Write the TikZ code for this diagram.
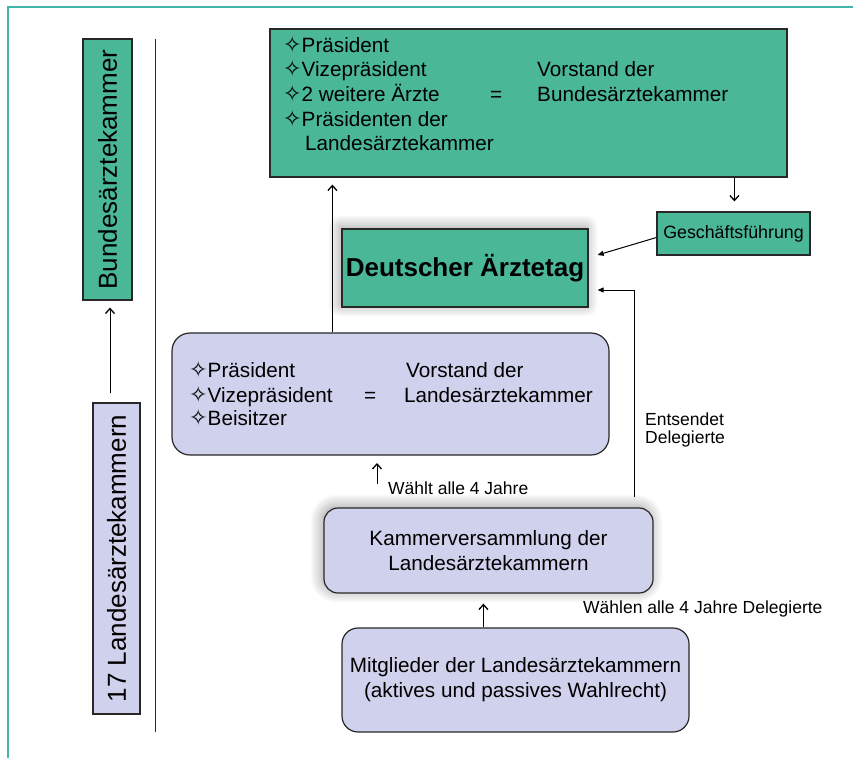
\documentclass[tikz,border=0pt]{standalone}
\usepackage{fontspec}
\setmainfont{Liberation Sans}
\newfontfamily\symf{DejaVu Sans}
\usetikzlibrary{arrows.meta,shadows.blur,calc}
\definecolor{bgreen}{RGB}{74,183,150}
\definecolor{lav}{RGB}{208,209,236}
\definecolor{framec}{RGB}{66,182,168}
\definecolor{edgec}{RGB}{40,40,40}
\newcommand{\dia}{\makebox[18.5pt][l]{\symf\fontsize{22}{22}\selectfont ✧}}
\begin{document}
\begin{tikzpicture}[x=1pt,y=-1pt,
 box/.style={draw=edgec, line width=1.2pt, inner sep=0pt},
 gbox/.style={box, fill=bgreen},
 lbox/.style={box, fill=lav},
 rbox/.style={lbox, rounded corners=16pt},
 txt/.style={inner sep=0pt, anchor=base west, font=\fontsize{20.7}{24}\selectfont},
 small/.style={inner sep=0pt, anchor=base west, font=\fontsize{17.5}{20}\selectfont},
 conn/.style={line width=1pt, -{Straight Barb[length=5pt,width=9pt,line width=1.3pt]}},
 conn2/.style={line width=1pt, -{Triangle[length=6pt,width=5pt]}},
 shad/.style={blur shadow={shadow xshift=-2pt, shadow yshift=2pt, shadow blur radius=12pt, shadow blur steps=12, shadow opacity=40}}
]
\useasboundingbox (0,0) rectangle (853,758);
\draw[framec, line width=1.8pt] (8,758) -- (8,7) -- (853,7);

% left column
\node[gbox, rotate=90, minimum width=261pt, minimum height=49pt, font=\fontsize{26}{30}\selectfont] (bk) at (107.5,169.5) {Bundesärztekammer};
\node[lbox, rotate=90, minimum width=311pt, minimum height=47pt, font=\fontsize{26}{30}\selectfont] (lk) at (116.5,558.5) {17 Landesärztekammern};
\draw[conn] ($(lk.east)+(-6.5,-9)$) -- ($(bk.west)+(2.5,7)$);
\draw[line width=1pt, edgec] (155,39) -- (155,732);

% top box
\node[gbox, minimum width=517pt, minimum height=148pt] (vbk) at (528.5,103) {};
\node[txt] (v1) at (283,52) {\dia Präsident};
\node[txt] (v2) at (283,76.5) {\dia Vizepräsident};
\node[txt] (v3) at (283,101) {\dia 2 weitere Ärzte};
\node[txt] (v4) at (283,126) {\dia Präsidenten der};
\node[txt] (v5) at (305,150) {Landesärztekammer};
\node[txt] (v6) at (490,101) {=};
\node[txt] (v7) at (537,76.5) {Vorstand der};
\node[txt] (v8) at (537,101) {Bundesärztekammer};

% Geschaeftsfuehrung and Aerztetag
\node[gbox, minimum width=153pt, minimum height=43pt, font=\fontsize{17.8}{20}\selectfont] (gf) at (733.5,233.5) {Geschäftsführung};
\node[gbox, shad, minimum width=246pt, minimum height=78pt, font=\bfseries\fontsize{26}{30}\selectfont] (dat) at (465,268) {Deutscher Ärztetag};

% Vorstand Landes
\node[rbox, rounded corners=18pt, minimum width=437pt, minimum height=122pt] (lv) at (390.5,394) {};
\node[txt] (l1) at (189,377) {\dia Präsident};
\node[txt] (l2) at (189,402) {\dia Vizepräsident};
\node[txt] (l3) at (189,425) {\dia Beisitzer};
\node[txt] (l4) at (364,402) {=};
\node[txt] (l5) at (406,377) {Vorstand der};
\node[txt] (l6) at (404,402) {Landesärztekammer};

% Kammerversammlung and Mitglieder
\node[rbox, shad, rounded corners=14pt, minimum width=329pt, minimum height=85pt, align=center, font=\fontsize{20.7}{25}\selectfont] (kv) at (488.5,550.5) {Kammerversammlung der\\Landesärztekammern};
\node[rbox, rounded corners=16pt, minimum width=347pt, minimum height=104pt, align=center, font=\fontsize{20.7}{25}\selectfont] (mg) at (515.5,680) {Mitglieder der Landesärztekammern\\(aktives und passives Wahlrecht)};

% connectors
\draw[conn, shorten >=7pt] ($(lv.north west)+(161,0)$) -- ($(vbk.south west)+(63,0)$);
\draw[conn, shorten >=10pt] ($(vbk.south west)+(465,0)$) -- ($(gf.north west)+(78,0)$);
\draw[conn2] ($(gf.west)+(0,4)$) -- ($(dat.east)+(9,-13)$);
\draw[conn2] ($(kv.north west)+(311,-10)$) |- ($(dat.east)+(9,22)$);
\coordinate (w1) at (377,484);
\coordinate (w2) at (377,463);
\draw[conn] (w1) -- (w2);
\draw[conn] ($(mg.north west)+(142,0)$) -- ($(kv.south west)+(160,10)$);

% labels
\node[small] (wl) at (388,494) {Wählt alle 4 Jahre};
\node[small] (wd) at (583,613) {Wählen alle 4 Jahre Delegierte};
\node[small] (ed1) at (645,425) {Entsendet};
\node[small] (ed2) at (645,443) {Delegierte};
\end{tikzpicture}
\end{document}
